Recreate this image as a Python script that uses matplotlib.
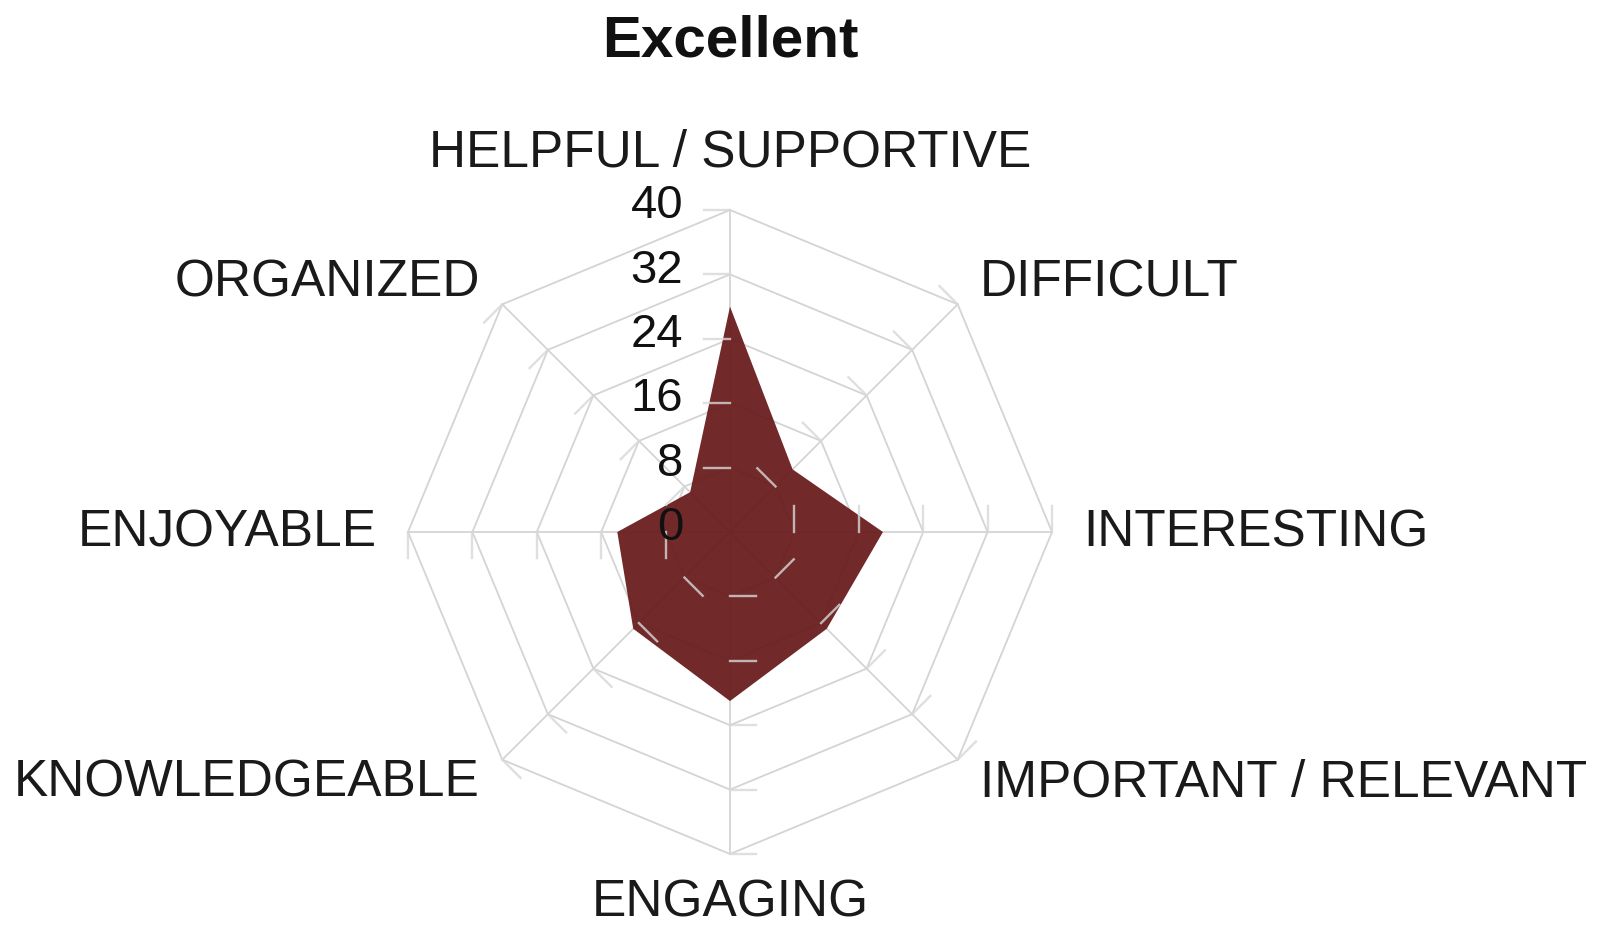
import numpy as np
import matplotlib
matplotlib.use("Agg")
import matplotlib.pyplot as plt

# ----------------------------------------------------------------------------
# Data (clockwise from the top axis)
# ----------------------------------------------------------------------------
categories = ["HELPFUL / SUPPORTIVE", "DIFFICULT", "INTERESTING",
              "IMPORTANT / RELEVANT", "ENGAGING", "KNOWLEDGEABLE",
              "ENJOYABLE", "ORGANIZED"]
values = [28, 11, 19, 17, 21, 17, 14, 7]
levels = [0, 8, 16, 24, 32, 40]
title = "Excellent"

# ----------------------------------------------------------------------------
# Layout: axes fill the figure, data units scaled so 40 -> 322 px
# ----------------------------------------------------------------------------
W, H = 1602, 928
cx, cy = 730, 533          # centre of the web in pixels (from top-left)
s = 40 / 322               # data units per pixel

plt.rcParams["font.family"] = ["Liberation Sans", "DejaVu Sans"]
fig = plt.figure(figsize=(W / 100, H / 100), dpi=100)
ax = fig.add_axes([0, 0, 1, 1])
ax.set_xlim(-cx * s, (W - cx) * s)
ax.set_ylim(-(H - cy) * s, cy * s)
ax.set_aspect("equal")
ax.axis("off")

n = len(categories)
theta = np.pi / 2 - np.arange(n) * 2 * np.pi / n
rmax = levels[-1]
grid_col = "#d4d4d4"

# octagon grid + radial axes
for lv in levels[1:]:
    gx = np.append(lv * np.cos(theta), lv * np.cos(theta[0]))
    gy = np.append(lv * np.sin(theta), lv * np.sin(theta[0]))
    ax.plot(gx, gy, color=grid_col, lw=1.3, zorder=1)
for t in theta:
    ax.plot([0, rmax * np.cos(t)], [0, rmax * np.sin(t)], color=grid_col, lw=1.3, zorder=1)

# data polygon
px = np.array(values) * np.cos(theta)
py = np.array(values) * np.sin(theta)
ax.fill(px, py, color="#6a1d1d", alpha=0.95, lw=0, zorder=2)

# small ticks on each axis, pointing counter-clockwise
tick_len = 3.2
for t in theta:
    for lv in levels[1:]:
        x0, y0 = lv * np.cos(t), lv * np.sin(t)
        x1 = x0 + tick_len * np.cos(t + np.pi / 2)
        y1 = y0 + tick_len * np.sin(t + np.pi / 2)
        ax.plot([x0, x1], [y0, y1], color="#d8d8d8", lw=1.7, alpha=0.8, zorder=3)

# level labels along the top axis
for lv in levels:
    ax.text(-5.8, lv + 0.6, str(lv), ha="right", va="center",
            fontsize=34, color="#111111", zorder=4)

# category labels
for cat, t in zip(categories, theta):
    c, sn = np.cos(t), np.sin(t)
    if abs(c) < 1e-6:
        r = 47.2 if sn > 0 else 46.0
        ha = "center"
    else:
        r = 43.9
        ha = "left" if c > 0 else "right"
    ax.text(r * c, r * sn, cat, ha=ha, va="center", fontsize=37,
            color="#1a1a1a", zorder=4)

ax.text(0, 61.0, title, ha="center", va="center", fontsize=42,
        fontweight="bold", color="#111111")

fig.savefig("out.png", dpi=100, facecolor="white")
